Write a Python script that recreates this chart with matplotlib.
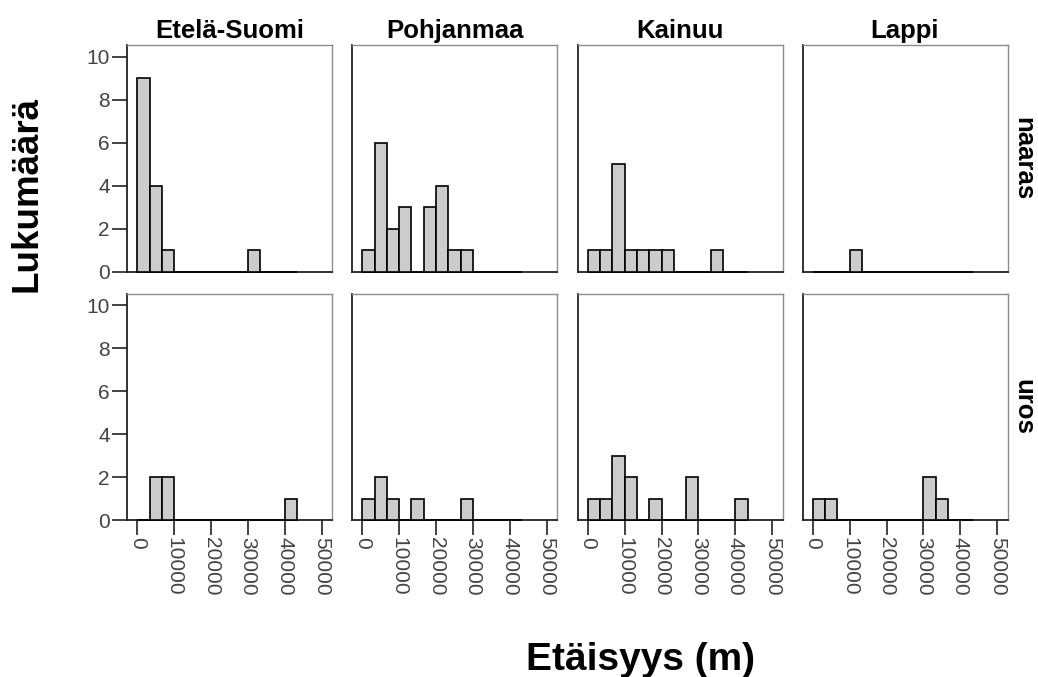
import matplotlib
matplotlib.use("Agg")
import matplotlib.pyplot as plt
import numpy as np

plt.rcParams['font.family'] = ['Liberation Sans', 'DejaVu Sans']

# alueet ja sukupuolet
alueet = ["Etelä-Suomi", "Pohjanmaa", "Kainuu", "Lappi"]
sukupuolet = ["naaras", "uros"]

# luokkien leveys 10000/3 m, 13 luokkaa alkaen nollasta
luokan_leveys = 10000 / 3
luokkia = 13

# frekvenssit luokittain
naaras = {
    "Etelä-Suomi": [9, 4, 1, 0, 0, 0, 0, 0, 0, 1, 0, 0, 0],
    "Pohjanmaa":   [1, 6, 2, 3, 0, 3, 4, 1, 1, 0, 0, 0, 0],
    "Kainuu":      [1, 1, 5, 1, 1, 1, 1, 0, 0, 0, 1, 0, 0],
    "Lappi":       [0, 0, 0, 1, 0, 0, 0, 0, 0, 0, 0, 0, 0],
}
uros = {
    "Etelä-Suomi": [0, 2, 2, 0, 0, 0, 0, 0, 0, 0, 0, 0, 1],
    "Pohjanmaa":   [1, 2, 1, 0, 1, 0, 0, 0, 1, 0, 0, 0, 0],
    "Kainuu":      [1, 1, 3, 2, 0, 1, 0, 0, 2, 0, 0, 0, 1],
    "Lappi":       [1, 1, 0, 0, 0, 0, 0, 0, 0, 2, 1, 0, 0],
}
frekvenssit = {"naaras": naaras, "uros": uros}

x_tikit = [0, 10000, 20000, 30000, 40000, 50000]
y_tikit = [0, 2, 4, 6, 8, 10]

W, H = 1038, 677
fig = plt.figure(figsize=(W / 100, H / 100), dpi=100)

vasen = [127, 352, 577.5, 802.5]
ylaosa = [45, 293.5]
lev, kork = 205, 226.5

alareunat = np.arange(luokkia) * luokan_leveys

for r, sp in enumerate(sukupuolet):
    for c, alue in enumerate(alueet):
        ax = fig.add_axes([vasen[c] / W, 1 - (ylaosa[r] + kork) / H, lev / W, kork / H])
        ax.bar(alareunat, frekvenssit[sp][alue], width=luokan_leveys, align="edge",
               color="#cccccc", edgecolor="black", linewidth=1.2, clip_on=False, zorder=3)
        ax.set_xlim(-2800, 52800)
        ax.set_ylim(0, 10.55)

        for s in ["top", "right"]:
            ax.spines[s].set_color("#8c8c8c")
            ax.spines[s].set_linewidth(1.0)
        for s in ["left", "bottom"]:
            ax.spines[s].set_color("#222222")
            ax.spines[s].set_linewidth(1.3)

        ax.tick_params(length=10.5, width=1.2, color="#222222",
                       labelsize=15, labelcolor="#444444", pad=2)
        if c == 0:
            ax.set_yticks(y_tikit)
        else:
            ax.set_yticks([])
        if r == 1:
            ax.set_xticks(x_tikit)
            ax.set_xticklabels([str(v) for v in x_tikit], rotation=-90, va="top", ha="center")
        else:
            ax.set_xticks([])

        if r == 0:
            ax.set_title(alue, fontsize=18.5, fontweight="bold", pad=5)
        if c == 3:
            ax.text(1.076, 0.5, sp, transform=ax.transAxes, rotation=-90,
                    ha="center", va="center", fontsize=18.5, fontweight="bold")

fig.text(27 / W, 1 - 194 / H, "Lukumäärä", rotation=90, ha="center", va="center",
         fontsize=26.5, fontweight="bold")
fig.text(640 / W, 1 - 670 / H, "Etäisyys (m)", ha="center", va="baseline",
         fontsize=28, fontweight="bold")

fig.savefig("out.png", dpi=100)
